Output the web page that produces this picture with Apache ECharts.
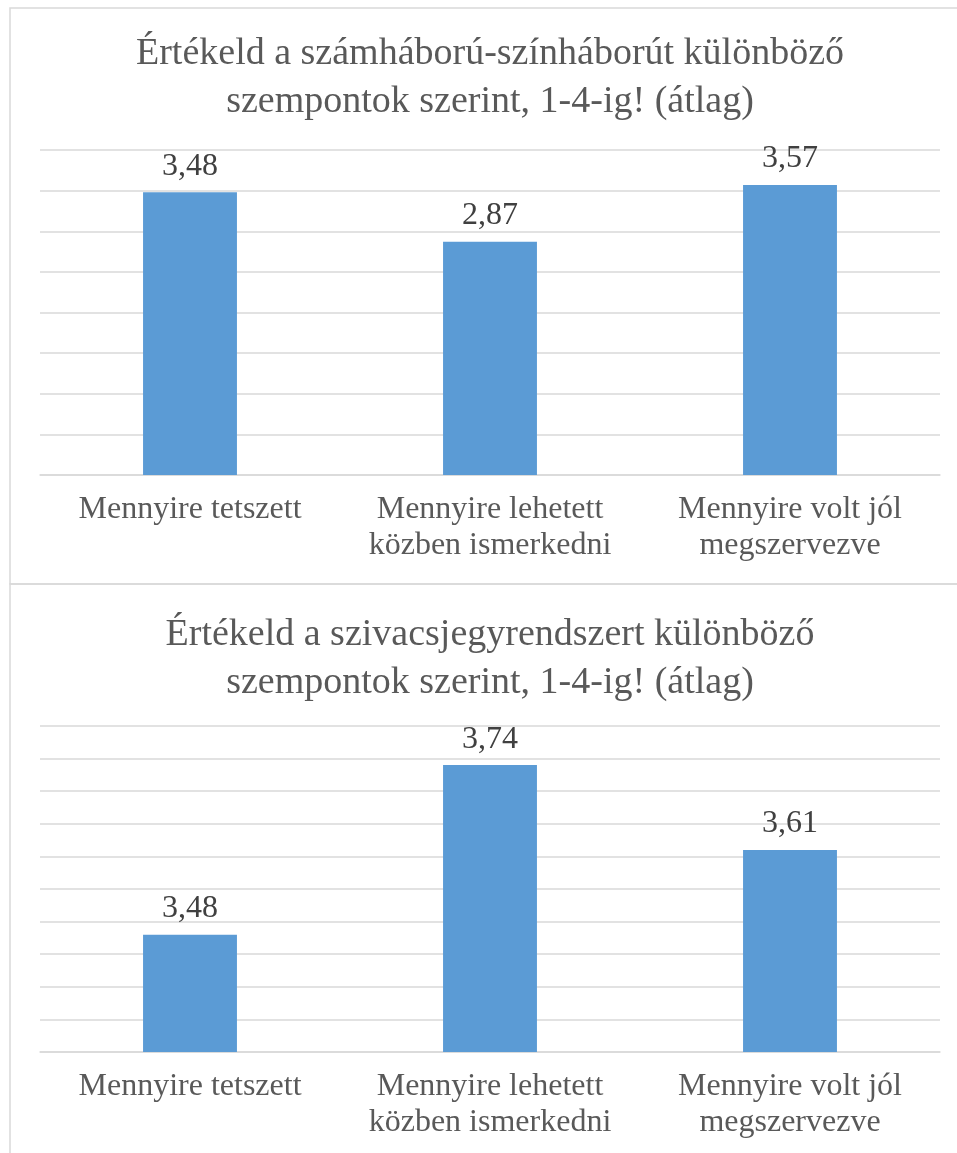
<!DOCTYPE html>
<html>
<head>
<meta charset="utf-8">
<script src="https://cdn.jsdelivr.net/npm/echarts@6/dist/echarts.min.js"></script>
<style>
  html, body { margin: 0; padding: 0; background: #fff; }
  #main { width: 957px; height: 1153px; }
</style>
</head>
<body>
<div id="main"></div>
<script>
var categories = ['Mennyire tetszett', 'Mennyire lehetett\nközben ismerkedni', 'Mennyire volt jól\nmegszervezve'];
var szamhaboruValues = [3.48, 2.87, 3.57];
var szivacsValues = [3.48, 3.74, 3.61];
var titleTop = 'Értékeld a számháború-színháborút különböző\nszempontok szerint, 1-4-ig! (átlag)';
var titleBottom = 'Értékeld a szivacsjegyrendszert különböző\nszempontok szerint, 1-4-ig! (átlag)';

var font = "'Liberation Serif', 'Times New Roman', serif";
var gridColor = '#d9d9d9';

var myChart = echarts.init(document.getElementById('main'));

function makeX(gridIndex) {
    return {
        type: 'category',
        gridIndex: gridIndex,
        data: categories,
        axisTick: { show: false },
        axisLine: { lineStyle: { color: gridColor, width: 1.5 } },
        axisLabel: {
            color: '#595959',
            fontFamily: font,
            fontSize: 32,
            lineHeight: 36,
            margin: 17,
            interval: 0
        }
    };
}

function makeY(gridIndex, min, max, interval) {
    return {
        type: 'value',
        gridIndex: gridIndex,
        min: min,
        max: max,
        interval: interval,
        axisLabel: { show: false },
        axisLine: { show: false },
        axisTick: { show: false },
        splitLine: { lineStyle: { color: gridColor, width: 1.5 } }
    };
}

function makeBar(idx, data) {
    return {
        type: 'bar',
        xAxisIndex: idx,
        yAxisIndex: idx,
        data: data,
        barWidth: '31.3%',
        clip: true,
        itemStyle: { color: '#5b9bd5' },
        label: {
            show: true,
            position: 'top',
            distance: 10,
            color: '#404040',
            fontFamily: font,
            fontSize: 32,
            formatter: function (p) {
                return p.value.toFixed(2).replace('.', ',');
            }
        }
    };
}

var option = {
    backgroundColor: '#fff',
    animation: false,
    grid: [
        { left: 40, width: 900, top: 150, height: 325 },
        { left: 40, width: 900, top: 726, height: 326 }
    ],
    xAxis: [makeX(0), makeX(1)],
    yAxis: [makeY(0, 0, 4, 0.5), makeY(1, 3.3, 3.8, 0.05)],
    series: [makeBar(0, szamhaboruValues), makeBar(1, szivacsValues)],
    graphic: [
        {
            type: 'rect',
            shape: { x: 10, y: 8, width: 960, height: 576 },
            style: { fill: null, stroke: gridColor, lineWidth: 1.5 },
            silent: true
        },
        {
            type: 'rect',
            shape: { x: 10, y: 584, width: 960, height: 590 },
            style: { fill: null, stroke: gridColor, lineWidth: 1.5 },
            silent: true
        },
        {
            type: 'text',
            x: 490,
            y: 78,
            style: {
                text: titleTop,
                textAlign: 'center',
                textVerticalAlign: 'middle',
                fontFamily: font,
                fontSize: 38,
                lineHeight: 48,
                fill: '#595959'
            }
        },
        {
            type: 'text',
            x: 490,
            y: 659,
            style: {
                text: titleBottom,
                textAlign: 'center',
                textVerticalAlign: 'middle',
                fontFamily: font,
                fontSize: 38,
                lineHeight: 48,
                fill: '#595959'
            }
        }
    ]
};

myChart.setOption(option);
</script>
</body>
</html>
